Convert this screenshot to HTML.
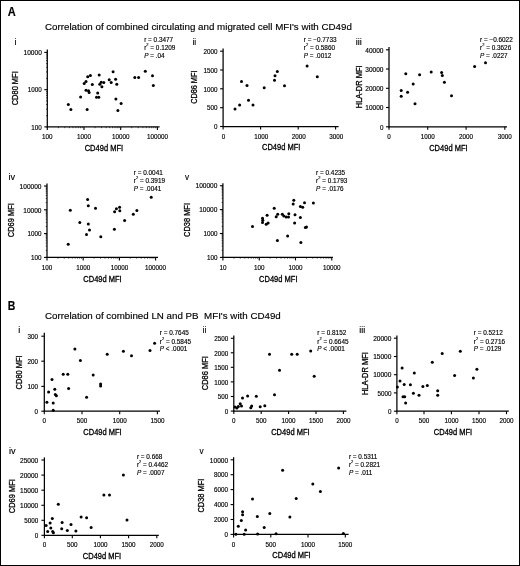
<!DOCTYPE html>
<html><head><meta charset="utf-8"><style>
html,body{margin:0;padding:0;background:#fff;}
svg{display:block;will-change:transform;}
text{font-family:"Liberation Sans", sans-serif;fill:#000;stroke:#000;stroke-width:0.15px;}
</style></head><body>
<svg width="520" height="566" viewBox="0 0 520 566">
<rect x="0" y="0" width="520" height="566" fill="#fff"/>
<rect x="0.5" y="0.5" width="519" height="565" fill="none" stroke="#000" stroke-width="1"/>
<text x="7.7" y="15.9" font-size="12.4" font-weight="bold" textLength="8.0" lengthAdjust="spacingAndGlyphs">A</text>
<text x="45" y="30.2" font-size="9.77">Correlation of combined circulating and migrated cell MFI's with CD49d</text>
<text x="7.8" y="309.9" font-size="12.6" font-weight="bold" textLength="7.6" lengthAdjust="spacingAndGlyphs">B</text>
<text x="45" y="318.7" font-size="9.78" xml:space="preserve">Correlation of combined LN and PB  MFI's with CD49d</text>
<g stroke="#000" fill="#000">
<line x1="47.30" y1="49.60" x2="47.30" y2="127.40" stroke-width="1.25"/>
<line x1="46.80" y1="126.90" x2="159.60" y2="126.90" stroke-width="1.25"/>
<line x1="44.30" y1="126.90" x2="47.30" y2="126.90" stroke-width="1.1"/>
<text x="41.80" y="129.66" font-size="6.3" text-anchor="end" textLength="10.51" lengthAdjust="spacingAndGlyphs">100</text>
<line x1="44.30" y1="89.65" x2="47.30" y2="89.65" stroke-width="1.1"/>
<text x="41.80" y="92.41" font-size="6.3" text-anchor="end" textLength="14.01" lengthAdjust="spacingAndGlyphs">1000</text>
<line x1="44.30" y1="52.40" x2="47.30" y2="52.40" stroke-width="1.1"/>
<text x="41.80" y="55.16" font-size="6.3" text-anchor="end" textLength="18.21" lengthAdjust="spacingAndGlyphs">10000</text>
<line x1="46.00" y1="115.69" x2="47.30" y2="115.69" stroke-width="0.65"/>
<line x1="46.00" y1="109.13" x2="47.30" y2="109.13" stroke-width="0.65"/>
<line x1="46.00" y1="104.47" x2="47.30" y2="104.47" stroke-width="0.65"/>
<line x1="46.00" y1="100.86" x2="47.30" y2="100.86" stroke-width="0.65"/>
<line x1="46.00" y1="97.91" x2="47.30" y2="97.91" stroke-width="0.65"/>
<line x1="46.00" y1="95.42" x2="47.30" y2="95.42" stroke-width="0.65"/>
<line x1="46.00" y1="93.26" x2="47.30" y2="93.26" stroke-width="0.65"/>
<line x1="46.00" y1="91.35" x2="47.30" y2="91.35" stroke-width="0.65"/>
<line x1="46.00" y1="78.44" x2="47.30" y2="78.44" stroke-width="0.65"/>
<line x1="46.00" y1="71.88" x2="47.30" y2="71.88" stroke-width="0.65"/>
<line x1="46.00" y1="67.22" x2="47.30" y2="67.22" stroke-width="0.65"/>
<line x1="46.00" y1="63.61" x2="47.30" y2="63.61" stroke-width="0.65"/>
<line x1="46.00" y1="60.66" x2="47.30" y2="60.66" stroke-width="0.65"/>
<line x1="46.00" y1="58.17" x2="47.30" y2="58.17" stroke-width="0.65"/>
<line x1="46.00" y1="56.01" x2="47.30" y2="56.01" stroke-width="0.65"/>
<line x1="46.00" y1="54.10" x2="47.30" y2="54.10" stroke-width="0.65"/>
<line x1="47.30" y1="126.90" x2="47.30" y2="129.90" stroke-width="1.1"/>
<text x="47.30" y="138.56" font-size="6.3" text-anchor="middle" textLength="10.51" lengthAdjust="spacingAndGlyphs">100</text>
<line x1="84.00" y1="126.90" x2="84.00" y2="129.90" stroke-width="1.1"/>
<text x="84.00" y="138.56" font-size="6.3" text-anchor="middle" textLength="14.01" lengthAdjust="spacingAndGlyphs">1000</text>
<line x1="120.70" y1="126.90" x2="120.70" y2="129.90" stroke-width="1.1"/>
<text x="120.70" y="138.56" font-size="6.3" text-anchor="middle" textLength="17.51" lengthAdjust="spacingAndGlyphs">10000</text>
<line x1="157.40" y1="126.90" x2="157.40" y2="129.90" stroke-width="1.1"/>
<text x="157.40" y="138.56" font-size="6.3" text-anchor="middle" textLength="21.02" lengthAdjust="spacingAndGlyphs">100000</text>
<line x1="58.35" y1="126.90" x2="58.35" y2="128.20" stroke-width="0.65"/>
<line x1="64.81" y1="126.90" x2="64.81" y2="128.20" stroke-width="0.65"/>
<line x1="69.40" y1="126.90" x2="69.40" y2="128.20" stroke-width="0.65"/>
<line x1="72.95" y1="126.90" x2="72.95" y2="128.20" stroke-width="0.65"/>
<line x1="75.86" y1="126.90" x2="75.86" y2="128.20" stroke-width="0.65"/>
<line x1="78.32" y1="126.90" x2="78.32" y2="128.20" stroke-width="0.65"/>
<line x1="80.44" y1="126.90" x2="80.44" y2="128.20" stroke-width="0.65"/>
<line x1="82.32" y1="126.90" x2="82.32" y2="128.20" stroke-width="0.65"/>
<line x1="95.05" y1="126.90" x2="95.05" y2="128.20" stroke-width="0.65"/>
<line x1="101.51" y1="126.90" x2="101.51" y2="128.20" stroke-width="0.65"/>
<line x1="106.10" y1="126.90" x2="106.10" y2="128.20" stroke-width="0.65"/>
<line x1="109.65" y1="126.90" x2="109.65" y2="128.20" stroke-width="0.65"/>
<line x1="112.56" y1="126.90" x2="112.56" y2="128.20" stroke-width="0.65"/>
<line x1="115.02" y1="126.90" x2="115.02" y2="128.20" stroke-width="0.65"/>
<line x1="117.14" y1="126.90" x2="117.14" y2="128.20" stroke-width="0.65"/>
<line x1="119.02" y1="126.90" x2="119.02" y2="128.20" stroke-width="0.65"/>
<line x1="131.75" y1="126.90" x2="131.75" y2="128.20" stroke-width="0.65"/>
<line x1="138.21" y1="126.90" x2="138.21" y2="128.20" stroke-width="0.65"/>
<line x1="142.80" y1="126.90" x2="142.80" y2="128.20" stroke-width="0.65"/>
<line x1="146.35" y1="126.90" x2="146.35" y2="128.20" stroke-width="0.65"/>
<line x1="149.26" y1="126.90" x2="149.26" y2="128.20" stroke-width="0.65"/>
<line x1="151.72" y1="126.90" x2="151.72" y2="128.20" stroke-width="0.65"/>
<line x1="153.84" y1="126.90" x2="153.84" y2="128.20" stroke-width="0.65"/>
<line x1="155.72" y1="126.90" x2="155.72" y2="128.20" stroke-width="0.65"/>
<text x="14.60" y="45.00" font-size="9.0">i</text>
<text transform="translate(18.00,88.30) rotate(-90)" x="0" y="0" font-size="8.6" text-anchor="middle" textLength="34.00" lengthAdjust="spacingAndGlyphs" style="stroke-width:0.3px">CD80 MFI</text>
<text x="103.90" y="150.75" font-size="8.4" text-anchor="middle" textLength="38.40" lengthAdjust="spacingAndGlyphs" style="stroke-width:0.3px">CD49d MFI</text>
<text x="144.20" y="41.92" font-size="6.4">r = 0.3477</text>
<text x="144.20" y="49.82" font-size="6.4">r<tspan font-size="3.97" dy="-3.6">2</tspan><tspan dy="3.6"> = 0.1209</tspan></text>
<text x="144.20" y="57.52" font-size="6.4"><tspan font-style="italic">P</tspan> = .04</text>
<circle cx="68.30" cy="104.40" r="1.5" stroke="none"/>
<circle cx="70.90" cy="109.60" r="1.5" stroke="none"/>
<circle cx="80.60" cy="96.90" r="1.5" stroke="none"/>
<circle cx="87.10" cy="109.40" r="1.5" stroke="none"/>
<circle cx="86.00" cy="90.30" r="1.5" stroke="none"/>
<circle cx="88.50" cy="90.70" r="1.5" stroke="none"/>
<circle cx="89.10" cy="92.60" r="1.5" stroke="none"/>
<circle cx="87.70" cy="76.80" r="1.5" stroke="none"/>
<circle cx="90.40" cy="75.50" r="1.5" stroke="none"/>
<circle cx="84.20" cy="83.40" r="1.5" stroke="none"/>
<circle cx="86.00" cy="81.50" r="1.5" stroke="none"/>
<circle cx="92.30" cy="84.50" r="1.5" stroke="none"/>
<circle cx="99.20" cy="74.90" r="1.5" stroke="none"/>
<circle cx="97.70" cy="93.00" r="1.5" stroke="none"/>
<circle cx="96.50" cy="97.20" r="1.5" stroke="none"/>
<circle cx="98.80" cy="97.20" r="1.5" stroke="none"/>
<circle cx="99.80" cy="84.20" r="1.5" stroke="none"/>
<circle cx="101.20" cy="82.20" r="1.5" stroke="none"/>
<circle cx="103.80" cy="82.60" r="1.5" stroke="none"/>
<circle cx="101.90" cy="86.80" r="1.5" stroke="none"/>
<circle cx="113.10" cy="71.80" r="1.5" stroke="none"/>
<circle cx="109.20" cy="79.70" r="1.5" stroke="none"/>
<circle cx="111.20" cy="82.60" r="1.5" stroke="none"/>
<circle cx="115.60" cy="79.30" r="1.5" stroke="none"/>
<circle cx="116.80" cy="84.20" r="1.5" stroke="none"/>
<circle cx="115.90" cy="99.00" r="1.5" stroke="none"/>
<circle cx="121.10" cy="103.50" r="1.5" stroke="none"/>
<circle cx="117.90" cy="110.50" r="1.5" stroke="none"/>
<circle cx="134.80" cy="77.50" r="1.5" stroke="none"/>
<circle cx="138.60" cy="77.50" r="1.5" stroke="none"/>
<circle cx="145.30" cy="71.20" r="1.5" stroke="none"/>
<circle cx="152.50" cy="75.80" r="1.5" stroke="none"/>
<circle cx="153.30" cy="85.40" r="1.5" stroke="none"/>
<line x1="223.10" y1="48.40" x2="223.10" y2="127.00" stroke-width="1.25"/>
<line x1="222.60" y1="126.50" x2="338.60" y2="126.50" stroke-width="1.25"/>
<line x1="220.10" y1="126.50" x2="223.10" y2="126.50" stroke-width="1.1"/>
<text x="217.60" y="129.26" font-size="6.3" text-anchor="end" textLength="3.50" lengthAdjust="spacingAndGlyphs">0</text>
<line x1="220.10" y1="107.70" x2="223.10" y2="107.70" stroke-width="1.1"/>
<text x="217.60" y="110.46" font-size="6.3" text-anchor="end" textLength="10.51" lengthAdjust="spacingAndGlyphs">500</text>
<line x1="220.10" y1="88.80" x2="223.10" y2="88.80" stroke-width="1.1"/>
<text x="217.60" y="91.56" font-size="6.3" text-anchor="end" textLength="14.01" lengthAdjust="spacingAndGlyphs">1000</text>
<line x1="220.10" y1="70.00" x2="223.10" y2="70.00" stroke-width="1.1"/>
<text x="217.60" y="72.76" font-size="6.3" text-anchor="end" textLength="14.01" lengthAdjust="spacingAndGlyphs">1500</text>
<line x1="220.10" y1="51.20" x2="223.10" y2="51.20" stroke-width="1.1"/>
<text x="217.60" y="53.96" font-size="6.3" text-anchor="end" textLength="14.01" lengthAdjust="spacingAndGlyphs">2000</text>
<line x1="223.10" y1="126.50" x2="223.10" y2="129.50" stroke-width="1.1"/>
<text x="223.40" y="138.86" font-size="6.3" text-anchor="middle" textLength="3.50" lengthAdjust="spacingAndGlyphs">0</text>
<line x1="260.60" y1="126.50" x2="260.60" y2="129.50" stroke-width="1.1"/>
<text x="261.20" y="138.86" font-size="6.3" text-anchor="middle" textLength="14.01" lengthAdjust="spacingAndGlyphs">1000</text>
<line x1="298.20" y1="126.50" x2="298.20" y2="129.50" stroke-width="1.1"/>
<text x="298.80" y="138.86" font-size="6.3" text-anchor="middle" textLength="14.01" lengthAdjust="spacingAndGlyphs">2000</text>
<line x1="335.60" y1="126.50" x2="335.60" y2="129.50" stroke-width="1.1"/>
<text x="336.20" y="138.86" font-size="6.3" text-anchor="middle" textLength="14.01" lengthAdjust="spacingAndGlyphs">3000</text>
<text x="192.50" y="45.20" font-size="9.0" textLength="3.70" lengthAdjust="spacingAndGlyphs">ii</text>
<text transform="translate(196.80,87.20) rotate(-90)" x="0" y="0" font-size="8.6" text-anchor="middle" textLength="33.30" lengthAdjust="spacingAndGlyphs" style="stroke-width:0.3px">CD86 MFI</text>
<text x="281.20" y="150.35" font-size="8.4" text-anchor="middle" textLength="38.40" lengthAdjust="spacingAndGlyphs" style="stroke-width:0.3px">CD49d MFI</text>
<text x="303.80" y="42.02" font-size="6.4">r = −0.7733</text>
<text x="303.80" y="49.82" font-size="6.4">r<tspan font-size="3.97" dy="-3.6">2</tspan><tspan dy="3.6"> = 0.5860</tspan></text>
<text x="303.80" y="57.52" font-size="6.4"><tspan font-style="italic">P</tspan> = .0012</text>
<circle cx="235.00" cy="108.90" r="1.5" stroke="none"/>
<circle cx="239.60" cy="104.90" r="1.5" stroke="none"/>
<circle cx="248.50" cy="100.30" r="1.5" stroke="none"/>
<circle cx="253.00" cy="105.10" r="1.5" stroke="none"/>
<circle cx="241.50" cy="81.50" r="1.5" stroke="none"/>
<circle cx="247.00" cy="85.40" r="1.5" stroke="none"/>
<circle cx="264.20" cy="87.70" r="1.5" stroke="none"/>
<circle cx="277.30" cy="71.50" r="1.5" stroke="none"/>
<circle cx="275.00" cy="75.70" r="1.5" stroke="none"/>
<circle cx="274.50" cy="80.30" r="1.5" stroke="none"/>
<circle cx="284.50" cy="85.80" r="1.5" stroke="none"/>
<circle cx="307.10" cy="66.10" r="1.5" stroke="none"/>
<circle cx="317.30" cy="76.70" r="1.5" stroke="none"/>
<line x1="389.00" y1="47.00" x2="389.00" y2="127.30" stroke-width="1.25"/>
<line x1="388.50" y1="126.80" x2="507.00" y2="126.80" stroke-width="1.25"/>
<line x1="386.00" y1="126.80" x2="389.00" y2="126.80" stroke-width="1.1"/>
<text x="383.50" y="129.56" font-size="6.3" text-anchor="end" textLength="3.50" lengthAdjust="spacingAndGlyphs">0</text>
<line x1="386.00" y1="107.50" x2="389.00" y2="107.50" stroke-width="1.1"/>
<text x="383.50" y="110.26" font-size="6.3" text-anchor="end" textLength="18.21" lengthAdjust="spacingAndGlyphs">10000</text>
<line x1="386.00" y1="88.30" x2="389.00" y2="88.30" stroke-width="1.1"/>
<text x="383.50" y="91.06" font-size="6.3" text-anchor="end" textLength="18.21" lengthAdjust="spacingAndGlyphs">20000</text>
<line x1="386.00" y1="69.00" x2="389.00" y2="69.00" stroke-width="1.1"/>
<text x="383.50" y="71.76" font-size="6.3" text-anchor="end" textLength="18.21" lengthAdjust="spacingAndGlyphs">30000</text>
<line x1="386.00" y1="49.80" x2="389.00" y2="49.80" stroke-width="1.1"/>
<text x="383.50" y="52.56" font-size="6.3" text-anchor="end" textLength="18.21" lengthAdjust="spacingAndGlyphs">40000</text>
<line x1="389.00" y1="126.80" x2="389.00" y2="129.80" stroke-width="1.1"/>
<text x="389.00" y="138.86" font-size="6.3" text-anchor="middle" textLength="3.50" lengthAdjust="spacingAndGlyphs">0</text>
<line x1="427.70" y1="126.80" x2="427.70" y2="129.80" stroke-width="1.1"/>
<text x="427.70" y="138.86" font-size="6.3" text-anchor="middle" textLength="14.01" lengthAdjust="spacingAndGlyphs">1000</text>
<line x1="466.10" y1="126.80" x2="466.10" y2="129.80" stroke-width="1.1"/>
<text x="466.10" y="138.86" font-size="6.3" text-anchor="middle" textLength="14.01" lengthAdjust="spacingAndGlyphs">2000</text>
<line x1="504.80" y1="126.80" x2="504.80" y2="129.80" stroke-width="1.1"/>
<text x="504.80" y="138.86" font-size="6.3" text-anchor="middle" textLength="14.01" lengthAdjust="spacingAndGlyphs">3000</text>
<text x="355.80" y="45.10" font-size="9.0" textLength="6.00" lengthAdjust="spacingAndGlyphs">iii</text>
<text transform="translate(361.50,86.80) rotate(-90)" x="0" y="0" font-size="8.6" text-anchor="middle" textLength="43.00" lengthAdjust="spacingAndGlyphs" style="stroke-width:0.3px">HLA-DR MFI</text>
<text x="448.40" y="150.70" font-size="8.4" text-anchor="middle" textLength="38.40" lengthAdjust="spacingAndGlyphs" style="stroke-width:0.3px">CD49d MFI</text>
<text x="480.00" y="42.02" font-size="6.4">r = −0.6022</text>
<text x="480.00" y="49.92" font-size="6.4">r<tspan font-size="3.97" dy="-3.6">2</tspan><tspan dy="3.6"> = 0.3626</tspan></text>
<text x="480.00" y="57.72" font-size="6.4"><tspan font-style="italic">P</tspan> = .0227</text>
<circle cx="405.80" cy="73.80" r="1.5" stroke="none"/>
<circle cx="401.20" cy="90.40" r="1.5" stroke="none"/>
<circle cx="401.20" cy="96.20" r="1.5" stroke="none"/>
<circle cx="407.60" cy="92.30" r="1.5" stroke="none"/>
<circle cx="413.20" cy="83.90" r="1.5" stroke="none"/>
<circle cx="415.00" cy="103.80" r="1.5" stroke="none"/>
<circle cx="419.60" cy="74.70" r="1.5" stroke="none"/>
<circle cx="431.20" cy="71.90" r="1.5" stroke="none"/>
<circle cx="441.60" cy="72.60" r="1.5" stroke="none"/>
<circle cx="442.30" cy="75.40" r="1.5" stroke="none"/>
<circle cx="444.40" cy="82.30" r="1.5" stroke="none"/>
<circle cx="451.50" cy="95.70" r="1.5" stroke="none"/>
<circle cx="474.60" cy="66.60" r="1.5" stroke="none"/>
<circle cx="485.50" cy="62.70" r="1.5" stroke="none"/>
<line x1="47.00" y1="183.40" x2="47.00" y2="257.90" stroke-width="1.25"/>
<line x1="46.50" y1="257.40" x2="158.00" y2="257.40" stroke-width="1.25"/>
<line x1="44.00" y1="257.40" x2="47.00" y2="257.40" stroke-width="1.1"/>
<text x="41.50" y="260.16" font-size="6.3" text-anchor="end" textLength="10.51" lengthAdjust="spacingAndGlyphs">100</text>
<line x1="44.00" y1="233.60" x2="47.00" y2="233.60" stroke-width="1.1"/>
<text x="41.50" y="236.36" font-size="6.3" text-anchor="end" textLength="14.01" lengthAdjust="spacingAndGlyphs">1000</text>
<line x1="44.00" y1="209.80" x2="47.00" y2="209.80" stroke-width="1.1"/>
<text x="41.50" y="212.56" font-size="6.3" text-anchor="end" textLength="18.21" lengthAdjust="spacingAndGlyphs">10000</text>
<line x1="44.00" y1="186.00" x2="47.00" y2="186.00" stroke-width="1.1"/>
<text x="41.50" y="188.76" font-size="6.3" text-anchor="end" textLength="21.86" lengthAdjust="spacingAndGlyphs">100000</text>
<line x1="45.70" y1="250.24" x2="47.00" y2="250.24" stroke-width="0.65"/>
<line x1="45.70" y1="246.04" x2="47.00" y2="246.04" stroke-width="0.65"/>
<line x1="45.70" y1="243.07" x2="47.00" y2="243.07" stroke-width="0.65"/>
<line x1="45.70" y1="240.76" x2="47.00" y2="240.76" stroke-width="0.65"/>
<line x1="45.70" y1="238.88" x2="47.00" y2="238.88" stroke-width="0.65"/>
<line x1="45.70" y1="237.29" x2="47.00" y2="237.29" stroke-width="0.65"/>
<line x1="45.70" y1="235.91" x2="47.00" y2="235.91" stroke-width="0.65"/>
<line x1="45.70" y1="234.69" x2="47.00" y2="234.69" stroke-width="0.65"/>
<line x1="45.70" y1="226.44" x2="47.00" y2="226.44" stroke-width="0.65"/>
<line x1="45.70" y1="222.24" x2="47.00" y2="222.24" stroke-width="0.65"/>
<line x1="45.70" y1="219.27" x2="47.00" y2="219.27" stroke-width="0.65"/>
<line x1="45.70" y1="216.96" x2="47.00" y2="216.96" stroke-width="0.65"/>
<line x1="45.70" y1="215.08" x2="47.00" y2="215.08" stroke-width="0.65"/>
<line x1="45.70" y1="213.49" x2="47.00" y2="213.49" stroke-width="0.65"/>
<line x1="45.70" y1="212.11" x2="47.00" y2="212.11" stroke-width="0.65"/>
<line x1="45.70" y1="210.89" x2="47.00" y2="210.89" stroke-width="0.65"/>
<line x1="45.70" y1="202.64" x2="47.00" y2="202.64" stroke-width="0.65"/>
<line x1="45.70" y1="198.44" x2="47.00" y2="198.44" stroke-width="0.65"/>
<line x1="45.70" y1="195.47" x2="47.00" y2="195.47" stroke-width="0.65"/>
<line x1="45.70" y1="193.16" x2="47.00" y2="193.16" stroke-width="0.65"/>
<line x1="45.70" y1="191.28" x2="47.00" y2="191.28" stroke-width="0.65"/>
<line x1="45.70" y1="189.69" x2="47.00" y2="189.69" stroke-width="0.65"/>
<line x1="45.70" y1="188.31" x2="47.00" y2="188.31" stroke-width="0.65"/>
<line x1="45.70" y1="187.09" x2="47.00" y2="187.09" stroke-width="0.65"/>
<line x1="47.00" y1="257.40" x2="47.00" y2="260.40" stroke-width="1.1"/>
<text x="47.00" y="269.66" font-size="6.3" text-anchor="middle" textLength="10.51" lengthAdjust="spacingAndGlyphs">100</text>
<line x1="83.20" y1="257.40" x2="83.20" y2="260.40" stroke-width="1.1"/>
<text x="83.20" y="269.66" font-size="6.3" text-anchor="middle" textLength="14.01" lengthAdjust="spacingAndGlyphs">1000</text>
<line x1="119.40" y1="257.40" x2="119.40" y2="260.40" stroke-width="1.1"/>
<text x="119.40" y="269.66" font-size="6.3" text-anchor="middle" textLength="17.51" lengthAdjust="spacingAndGlyphs">10000</text>
<line x1="155.60" y1="257.40" x2="155.60" y2="260.40" stroke-width="1.1"/>
<text x="155.60" y="269.66" font-size="6.3" text-anchor="middle" textLength="21.02" lengthAdjust="spacingAndGlyphs">100000</text>
<line x1="57.90" y1="257.40" x2="57.90" y2="258.70" stroke-width="0.65"/>
<line x1="64.27" y1="257.40" x2="64.27" y2="258.70" stroke-width="0.65"/>
<line x1="68.79" y1="257.40" x2="68.79" y2="258.70" stroke-width="0.65"/>
<line x1="72.30" y1="257.40" x2="72.30" y2="258.70" stroke-width="0.65"/>
<line x1="75.17" y1="257.40" x2="75.17" y2="258.70" stroke-width="0.65"/>
<line x1="77.59" y1="257.40" x2="77.59" y2="258.70" stroke-width="0.65"/>
<line x1="79.69" y1="257.40" x2="79.69" y2="258.70" stroke-width="0.65"/>
<line x1="81.54" y1="257.40" x2="81.54" y2="258.70" stroke-width="0.65"/>
<line x1="94.10" y1="257.40" x2="94.10" y2="258.70" stroke-width="0.65"/>
<line x1="100.47" y1="257.40" x2="100.47" y2="258.70" stroke-width="0.65"/>
<line x1="104.99" y1="257.40" x2="104.99" y2="258.70" stroke-width="0.65"/>
<line x1="108.50" y1="257.40" x2="108.50" y2="258.70" stroke-width="0.65"/>
<line x1="111.37" y1="257.40" x2="111.37" y2="258.70" stroke-width="0.65"/>
<line x1="113.79" y1="257.40" x2="113.79" y2="258.70" stroke-width="0.65"/>
<line x1="115.89" y1="257.40" x2="115.89" y2="258.70" stroke-width="0.65"/>
<line x1="117.74" y1="257.40" x2="117.74" y2="258.70" stroke-width="0.65"/>
<line x1="130.30" y1="257.40" x2="130.30" y2="258.70" stroke-width="0.65"/>
<line x1="136.67" y1="257.40" x2="136.67" y2="258.70" stroke-width="0.65"/>
<line x1="141.19" y1="257.40" x2="141.19" y2="258.70" stroke-width="0.65"/>
<line x1="144.70" y1="257.40" x2="144.70" y2="258.70" stroke-width="0.65"/>
<line x1="147.57" y1="257.40" x2="147.57" y2="258.70" stroke-width="0.65"/>
<line x1="149.99" y1="257.40" x2="149.99" y2="258.70" stroke-width="0.65"/>
<line x1="152.09" y1="257.40" x2="152.09" y2="258.70" stroke-width="0.65"/>
<line x1="153.94" y1="257.40" x2="153.94" y2="258.70" stroke-width="0.65"/>
<text x="8.40" y="180.00" font-size="9.0" textLength="6.60" lengthAdjust="spacingAndGlyphs">iv</text>
<text transform="translate(14.10,220.20) rotate(-90)" x="0" y="0" font-size="8.6" text-anchor="middle" textLength="34.00" lengthAdjust="spacingAndGlyphs" style="stroke-width:0.3px">CD69 MFI</text>
<text x="102.50" y="281.55" font-size="8.4" text-anchor="middle" textLength="38.40" lengthAdjust="spacingAndGlyphs" style="stroke-width:0.3px">CD49d MFI</text>
<text x="133.80" y="174.62" font-size="6.4">r = 0.0041</text>
<text x="133.80" y="182.72" font-size="6.4">r<tspan font-size="3.97" dy="-3.6">2</tspan><tspan dy="3.6"> = 0.3919</tspan></text>
<text x="133.80" y="190.82" font-size="6.4"><tspan font-style="italic">P</tspan> = .0041</text>
<circle cx="68.20" cy="244.30" r="1.5" stroke="none"/>
<circle cx="70.30" cy="210.30" r="1.5" stroke="none"/>
<circle cx="79.80" cy="222.60" r="1.5" stroke="none"/>
<circle cx="87.60" cy="199.50" r="1.5" stroke="none"/>
<circle cx="88.30" cy="205.70" r="1.5" stroke="none"/>
<circle cx="88.30" cy="224.00" r="1.5" stroke="none"/>
<circle cx="89.50" cy="230.00" r="1.5" stroke="none"/>
<circle cx="86.50" cy="234.40" r="1.5" stroke="none"/>
<circle cx="95.50" cy="208.30" r="1.5" stroke="none"/>
<circle cx="100.80" cy="236.70" r="1.5" stroke="none"/>
<circle cx="114.60" cy="211.80" r="1.5" stroke="none"/>
<circle cx="116.40" cy="208.70" r="1.5" stroke="none"/>
<circle cx="119.60" cy="207.30" r="1.5" stroke="none"/>
<circle cx="119.80" cy="210.80" r="1.5" stroke="none"/>
<circle cx="114.40" cy="229.20" r="1.5" stroke="none"/>
<circle cx="124.60" cy="220.40" r="1.5" stroke="none"/>
<circle cx="133.30" cy="214.20" r="1.5" stroke="none"/>
<circle cx="136.90" cy="210.40" r="1.5" stroke="none"/>
<circle cx="151.20" cy="197.20" r="1.5" stroke="none"/>
<line x1="222.90" y1="183.20" x2="222.90" y2="257.90" stroke-width="1.25"/>
<line x1="222.40" y1="257.40" x2="332.90" y2="257.40" stroke-width="1.25"/>
<line x1="219.90" y1="257.40" x2="222.90" y2="257.40" stroke-width="1.1"/>
<text x="217.40" y="260.16" font-size="6.3" text-anchor="end" textLength="10.51" lengthAdjust="spacingAndGlyphs">100</text>
<line x1="219.90" y1="233.50" x2="222.90" y2="233.50" stroke-width="1.1"/>
<text x="217.40" y="236.26" font-size="6.3" text-anchor="end" textLength="14.01" lengthAdjust="spacingAndGlyphs">1000</text>
<line x1="219.90" y1="209.60" x2="222.90" y2="209.60" stroke-width="1.1"/>
<text x="217.40" y="212.36" font-size="6.3" text-anchor="end" textLength="18.21" lengthAdjust="spacingAndGlyphs">10000</text>
<line x1="219.90" y1="185.70" x2="222.90" y2="185.70" stroke-width="1.1"/>
<text x="217.40" y="188.46" font-size="6.3" text-anchor="end" textLength="21.86" lengthAdjust="spacingAndGlyphs">100000</text>
<line x1="221.60" y1="250.21" x2="222.90" y2="250.21" stroke-width="0.65"/>
<line x1="221.60" y1="246.00" x2="222.90" y2="246.00" stroke-width="0.65"/>
<line x1="221.60" y1="243.01" x2="222.90" y2="243.01" stroke-width="0.65"/>
<line x1="221.60" y1="240.69" x2="222.90" y2="240.69" stroke-width="0.65"/>
<line x1="221.60" y1="238.80" x2="222.90" y2="238.80" stroke-width="0.65"/>
<line x1="221.60" y1="237.20" x2="222.90" y2="237.20" stroke-width="0.65"/>
<line x1="221.60" y1="235.82" x2="222.90" y2="235.82" stroke-width="0.65"/>
<line x1="221.60" y1="234.59" x2="222.90" y2="234.59" stroke-width="0.65"/>
<line x1="221.60" y1="226.31" x2="222.90" y2="226.31" stroke-width="0.65"/>
<line x1="221.60" y1="222.10" x2="222.90" y2="222.10" stroke-width="0.65"/>
<line x1="221.60" y1="219.11" x2="222.90" y2="219.11" stroke-width="0.65"/>
<line x1="221.60" y1="216.79" x2="222.90" y2="216.79" stroke-width="0.65"/>
<line x1="221.60" y1="214.90" x2="222.90" y2="214.90" stroke-width="0.65"/>
<line x1="221.60" y1="213.30" x2="222.90" y2="213.30" stroke-width="0.65"/>
<line x1="221.60" y1="211.92" x2="222.90" y2="211.92" stroke-width="0.65"/>
<line x1="221.60" y1="210.69" x2="222.90" y2="210.69" stroke-width="0.65"/>
<line x1="221.60" y1="202.41" x2="222.90" y2="202.41" stroke-width="0.65"/>
<line x1="221.60" y1="198.20" x2="222.90" y2="198.20" stroke-width="0.65"/>
<line x1="221.60" y1="195.21" x2="222.90" y2="195.21" stroke-width="0.65"/>
<line x1="221.60" y1="192.89" x2="222.90" y2="192.89" stroke-width="0.65"/>
<line x1="221.60" y1="191.00" x2="222.90" y2="191.00" stroke-width="0.65"/>
<line x1="221.60" y1="189.40" x2="222.90" y2="189.40" stroke-width="0.65"/>
<line x1="221.60" y1="188.02" x2="222.90" y2="188.02" stroke-width="0.65"/>
<line x1="221.60" y1="186.79" x2="222.90" y2="186.79" stroke-width="0.65"/>
<line x1="222.90" y1="257.40" x2="222.90" y2="260.40" stroke-width="1.1"/>
<text x="222.90" y="269.66" font-size="6.3" text-anchor="middle" textLength="7.01" lengthAdjust="spacingAndGlyphs">10</text>
<line x1="259.25" y1="257.40" x2="259.25" y2="260.40" stroke-width="1.1"/>
<text x="259.25" y="269.66" font-size="6.3" text-anchor="middle" textLength="10.51" lengthAdjust="spacingAndGlyphs">100</text>
<line x1="295.50" y1="257.40" x2="295.50" y2="260.40" stroke-width="1.1"/>
<text x="295.50" y="269.66" font-size="6.3" text-anchor="middle" textLength="14.01" lengthAdjust="spacingAndGlyphs">1000</text>
<line x1="331.75" y1="257.40" x2="331.75" y2="260.40" stroke-width="1.1"/>
<text x="331.75" y="269.66" font-size="6.3" text-anchor="middle" textLength="17.51" lengthAdjust="spacingAndGlyphs">10000</text>
<line x1="233.91" y1="257.40" x2="233.91" y2="258.70" stroke-width="0.65"/>
<line x1="240.30" y1="257.40" x2="240.30" y2="258.70" stroke-width="0.65"/>
<line x1="244.82" y1="257.40" x2="244.82" y2="258.70" stroke-width="0.65"/>
<line x1="248.34" y1="257.40" x2="248.34" y2="258.70" stroke-width="0.65"/>
<line x1="251.21" y1="257.40" x2="251.21" y2="258.70" stroke-width="0.65"/>
<line x1="253.63" y1="257.40" x2="253.63" y2="258.70" stroke-width="0.65"/>
<line x1="255.74" y1="257.40" x2="255.74" y2="258.70" stroke-width="0.65"/>
<line x1="257.59" y1="257.40" x2="257.59" y2="258.70" stroke-width="0.65"/>
<line x1="270.16" y1="257.40" x2="270.16" y2="258.70" stroke-width="0.65"/>
<line x1="276.55" y1="257.40" x2="276.55" y2="258.70" stroke-width="0.65"/>
<line x1="281.07" y1="257.40" x2="281.07" y2="258.70" stroke-width="0.65"/>
<line x1="284.59" y1="257.40" x2="284.59" y2="258.70" stroke-width="0.65"/>
<line x1="287.46" y1="257.40" x2="287.46" y2="258.70" stroke-width="0.65"/>
<line x1="289.88" y1="257.40" x2="289.88" y2="258.70" stroke-width="0.65"/>
<line x1="291.99" y1="257.40" x2="291.99" y2="258.70" stroke-width="0.65"/>
<line x1="293.84" y1="257.40" x2="293.84" y2="258.70" stroke-width="0.65"/>
<line x1="306.41" y1="257.40" x2="306.41" y2="258.70" stroke-width="0.65"/>
<line x1="312.80" y1="257.40" x2="312.80" y2="258.70" stroke-width="0.65"/>
<line x1="317.32" y1="257.40" x2="317.32" y2="258.70" stroke-width="0.65"/>
<line x1="320.84" y1="257.40" x2="320.84" y2="258.70" stroke-width="0.65"/>
<line x1="323.71" y1="257.40" x2="323.71" y2="258.70" stroke-width="0.65"/>
<line x1="326.13" y1="257.40" x2="326.13" y2="258.70" stroke-width="0.65"/>
<line x1="328.24" y1="257.40" x2="328.24" y2="258.70" stroke-width="0.65"/>
<line x1="330.09" y1="257.40" x2="330.09" y2="258.70" stroke-width="0.65"/>
<text x="185.00" y="180.00" font-size="9.0" textLength="4.10" lengthAdjust="spacingAndGlyphs">v</text>
<text transform="translate(189.50,220.00) rotate(-90)" x="0" y="0" font-size="8.6" text-anchor="middle" textLength="34.00" lengthAdjust="spacingAndGlyphs" style="stroke-width:0.3px">CD38 MFI</text>
<text x="278.30" y="281.65" font-size="8.4" text-anchor="middle" textLength="38.40" lengthAdjust="spacingAndGlyphs" style="stroke-width:0.3px">CD49d MFI</text>
<text x="316.10" y="174.62" font-size="6.4">r = 0.4235</text>
<text x="316.10" y="182.72" font-size="6.4">r<tspan font-size="3.97" dy="-3.6">2</tspan><tspan dy="3.6"> = 0.1793</tspan></text>
<text x="316.10" y="190.72" font-size="6.4"><tspan font-style="italic">P</tspan> = .0176</text>
<circle cx="252.50" cy="226.60" r="1.5" stroke="none"/>
<circle cx="262.50" cy="218.30" r="1.5" stroke="none"/>
<circle cx="262.80" cy="220.20" r="1.5" stroke="none"/>
<circle cx="262.50" cy="222.60" r="1.5" stroke="none"/>
<circle cx="266.20" cy="224.20" r="1.5" stroke="none"/>
<circle cx="268.10" cy="223.10" r="1.5" stroke="none"/>
<circle cx="267.10" cy="215.20" r="1.5" stroke="none"/>
<circle cx="274.20" cy="208.20" r="1.5" stroke="none"/>
<circle cx="276.20" cy="216.80" r="1.5" stroke="none"/>
<circle cx="277.70" cy="214.30" r="1.5" stroke="none"/>
<circle cx="282.30" cy="214.20" r="1.5" stroke="none"/>
<circle cx="283.80" cy="216.10" r="1.5" stroke="none"/>
<circle cx="286.20" cy="217.10" r="1.5" stroke="none"/>
<circle cx="288.50" cy="217.10" r="1.5" stroke="none"/>
<circle cx="288.80" cy="213.80" r="1.5" stroke="none"/>
<circle cx="293.80" cy="200.30" r="1.5" stroke="none"/>
<circle cx="293.20" cy="204.00" r="1.5" stroke="none"/>
<circle cx="304.50" cy="202.80" r="1.5" stroke="none"/>
<circle cx="313.40" cy="203.00" r="1.5" stroke="none"/>
<circle cx="300.40" cy="206.50" r="1.5" stroke="none"/>
<circle cx="302.70" cy="207.20" r="1.5" stroke="none"/>
<circle cx="295.00" cy="214.80" r="1.5" stroke="none"/>
<circle cx="300.40" cy="217.60" r="1.5" stroke="none"/>
<circle cx="294.60" cy="223.00" r="1.5" stroke="none"/>
<circle cx="305.40" cy="227.60" r="1.5" stroke="none"/>
<circle cx="306.50" cy="227.10" r="1.5" stroke="none"/>
<circle cx="287.60" cy="235.90" r="1.5" stroke="none"/>
<circle cx="277.40" cy="240.40" r="1.5" stroke="none"/>
<circle cx="300.90" cy="242.40" r="1.5" stroke="none"/>
<line x1="44.30" y1="332.80" x2="44.30" y2="411.70" stroke-width="1.25"/>
<line x1="43.80" y1="411.20" x2="160.00" y2="411.20" stroke-width="1.25"/>
<line x1="41.30" y1="411.20" x2="44.30" y2="411.20" stroke-width="1.1"/>
<text x="38.00" y="413.96" font-size="6.3" text-anchor="end" textLength="3.50" lengthAdjust="spacingAndGlyphs">0</text>
<line x1="41.30" y1="386.40" x2="44.30" y2="386.40" stroke-width="1.1"/>
<text x="38.00" y="389.16" font-size="6.3" text-anchor="end" textLength="10.51" lengthAdjust="spacingAndGlyphs">100</text>
<line x1="41.30" y1="361.20" x2="44.30" y2="361.20" stroke-width="1.1"/>
<text x="38.00" y="363.96" font-size="6.3" text-anchor="end" textLength="10.51" lengthAdjust="spacingAndGlyphs">200</text>
<line x1="41.30" y1="336.20" x2="44.30" y2="336.20" stroke-width="1.1"/>
<text x="38.00" y="338.96" font-size="6.3" text-anchor="end" textLength="10.51" lengthAdjust="spacingAndGlyphs">300</text>
<line x1="44.30" y1="411.20" x2="44.30" y2="414.20" stroke-width="1.1"/>
<text x="44.30" y="422.86" font-size="6.3" text-anchor="middle" textLength="3.50" lengthAdjust="spacingAndGlyphs">0</text>
<line x1="82.00" y1="411.20" x2="82.00" y2="414.20" stroke-width="1.1"/>
<text x="82.00" y="422.86" font-size="6.3" text-anchor="middle" textLength="10.51" lengthAdjust="spacingAndGlyphs">500</text>
<line x1="119.70" y1="411.20" x2="119.70" y2="414.20" stroke-width="1.1"/>
<text x="119.70" y="422.86" font-size="6.3" text-anchor="middle" textLength="14.01" lengthAdjust="spacingAndGlyphs">1000</text>
<line x1="157.40" y1="411.20" x2="157.40" y2="414.20" stroke-width="1.1"/>
<text x="157.40" y="422.86" font-size="6.3" text-anchor="middle" textLength="14.01" lengthAdjust="spacingAndGlyphs">1500</text>
<text x="18.30" y="333.00" font-size="9.0">i</text>
<text transform="translate(22.30,372.40) rotate(-90)" x="0" y="0" font-size="8.6" text-anchor="middle" textLength="34.00" lengthAdjust="spacingAndGlyphs" style="stroke-width:0.3px">CD80 MFI</text>
<text x="102.50" y="434.80" font-size="8.4" text-anchor="middle" textLength="38.40" lengthAdjust="spacingAndGlyphs" style="stroke-width:0.3px">CD49d MFI</text>
<text x="159.80" y="335.42" font-size="6.4">r = 0.7645</text>
<text x="159.80" y="343.92" font-size="6.4">r<tspan font-size="3.97" dy="-3.6">2</tspan><tspan dy="3.6"> = 0.5845</tspan></text>
<text x="159.80" y="350.72" font-size="6.4"><tspan font-style="italic">P</tspan> &lt; .0001</text>
<circle cx="74.90" cy="349.00" r="1.5" stroke="none"/>
<circle cx="80.40" cy="360.50" r="1.5" stroke="none"/>
<circle cx="107.20" cy="354.30" r="1.5" stroke="none"/>
<circle cx="123.40" cy="351.20" r="1.5" stroke="none"/>
<circle cx="131.50" cy="355.80" r="1.5" stroke="none"/>
<circle cx="150.00" cy="350.40" r="1.5" stroke="none"/>
<circle cx="154.60" cy="343.20" r="1.5" stroke="none"/>
<circle cx="63.20" cy="374.20" r="1.5" stroke="none"/>
<circle cx="67.80" cy="374.20" r="1.5" stroke="none"/>
<circle cx="93.20" cy="375.00" r="1.5" stroke="none"/>
<circle cx="52.00" cy="379.50" r="1.5" stroke="none"/>
<circle cx="100.60" cy="384.10" r="1.5" stroke="none"/>
<circle cx="100.60" cy="386.00" r="1.5" stroke="none"/>
<circle cx="68.60" cy="388.50" r="1.5" stroke="none"/>
<circle cx="54.80" cy="389.20" r="1.5" stroke="none"/>
<circle cx="48.60" cy="391.90" r="1.5" stroke="none"/>
<circle cx="55.30" cy="394.50" r="1.5" stroke="none"/>
<circle cx="56.40" cy="395.80" r="1.5" stroke="none"/>
<circle cx="86.60" cy="397.20" r="1.5" stroke="none"/>
<circle cx="46.90" cy="402.20" r="1.5" stroke="none"/>
<circle cx="53.20" cy="403.10" r="1.5" stroke="none"/>
<circle cx="53.20" cy="410.30" r="1.5" stroke="none"/>
<line x1="233.80" y1="335.60" x2="233.80" y2="411.60" stroke-width="1.25"/>
<line x1="233.30" y1="411.10" x2="346.40" y2="411.10" stroke-width="1.25"/>
<line x1="230.80" y1="411.10" x2="233.80" y2="411.10" stroke-width="1.1"/>
<text x="228.30" y="413.86" font-size="6.3" text-anchor="end" textLength="3.50" lengthAdjust="spacingAndGlyphs">0</text>
<line x1="230.80" y1="396.50" x2="233.80" y2="396.50" stroke-width="1.1"/>
<text x="228.30" y="399.26" font-size="6.3" text-anchor="end" textLength="10.51" lengthAdjust="spacingAndGlyphs">500</text>
<line x1="230.80" y1="381.90" x2="233.80" y2="381.90" stroke-width="1.1"/>
<text x="228.30" y="384.66" font-size="6.3" text-anchor="end" textLength="14.01" lengthAdjust="spacingAndGlyphs">1000</text>
<line x1="230.80" y1="367.30" x2="233.80" y2="367.30" stroke-width="1.1"/>
<text x="228.30" y="370.06" font-size="6.3" text-anchor="end" textLength="14.01" lengthAdjust="spacingAndGlyphs">1500</text>
<line x1="230.80" y1="352.80" x2="233.80" y2="352.80" stroke-width="1.1"/>
<text x="228.30" y="355.56" font-size="6.3" text-anchor="end" textLength="14.01" lengthAdjust="spacingAndGlyphs">2000</text>
<line x1="230.80" y1="338.30" x2="233.80" y2="338.30" stroke-width="1.1"/>
<text x="228.30" y="341.06" font-size="6.3" text-anchor="end" textLength="14.01" lengthAdjust="spacingAndGlyphs">2500</text>
<line x1="233.80" y1="411.10" x2="233.80" y2="414.10" stroke-width="1.1"/>
<text x="233.80" y="422.86" font-size="6.3" text-anchor="middle" textLength="3.50" lengthAdjust="spacingAndGlyphs">0</text>
<line x1="261.20" y1="411.10" x2="261.20" y2="414.10" stroke-width="1.1"/>
<text x="261.20" y="422.86" font-size="6.3" text-anchor="middle" textLength="10.51" lengthAdjust="spacingAndGlyphs">500</text>
<line x1="288.60" y1="411.10" x2="288.60" y2="414.10" stroke-width="1.1"/>
<text x="288.60" y="422.86" font-size="6.3" text-anchor="middle" textLength="14.01" lengthAdjust="spacingAndGlyphs">1000</text>
<line x1="316.00" y1="411.10" x2="316.00" y2="414.10" stroke-width="1.1"/>
<text x="316.00" y="422.86" font-size="6.3" text-anchor="middle" textLength="14.01" lengthAdjust="spacingAndGlyphs">1500</text>
<line x1="343.40" y1="411.10" x2="343.40" y2="414.10" stroke-width="1.1"/>
<text x="343.40" y="422.86" font-size="6.3" text-anchor="middle" textLength="14.01" lengthAdjust="spacingAndGlyphs">2000</text>
<text x="202.60" y="332.80" font-size="9.0" textLength="3.70" lengthAdjust="spacingAndGlyphs">ii</text>
<text transform="translate(208.20,373.20) rotate(-90)" x="0" y="0" font-size="8.6" text-anchor="middle" textLength="34.00" lengthAdjust="spacingAndGlyphs" style="stroke-width:0.3px">CD86 MFI</text>
<text x="290.40" y="434.85" font-size="8.4" text-anchor="middle" textLength="38.40" lengthAdjust="spacingAndGlyphs" style="stroke-width:0.3px">CD49d MFI</text>
<text x="317.30" y="335.22" font-size="6.4">r = 0.8152</text>
<text x="317.30" y="343.92" font-size="6.4">r<tspan font-size="3.97" dy="-3.6">2</tspan><tspan dy="3.6"> = 0.6645</tspan></text>
<text x="317.30" y="351.32" font-size="6.4"><tspan font-style="italic">P</tspan> &lt; .0001</text>
<circle cx="235.00" cy="406.90" r="1.5" stroke="none"/>
<circle cx="236.90" cy="408.10" r="1.5" stroke="none"/>
<circle cx="238.30" cy="406.50" r="1.5" stroke="none"/>
<circle cx="240.20" cy="403.70" r="1.5" stroke="none"/>
<circle cx="241.50" cy="406.00" r="1.5" stroke="none"/>
<circle cx="242.50" cy="398.10" r="1.5" stroke="none"/>
<circle cx="247.60" cy="395.90" r="1.5" stroke="none"/>
<circle cx="251.70" cy="405.90" r="1.5" stroke="none"/>
<circle cx="250.80" cy="407.70" r="1.5" stroke="none"/>
<circle cx="256.30" cy="396.20" r="1.5" stroke="none"/>
<circle cx="260.20" cy="406.70" r="1.5" stroke="none"/>
<circle cx="264.80" cy="405.80" r="1.5" stroke="none"/>
<circle cx="274.50" cy="394.80" r="1.5" stroke="none"/>
<circle cx="269.50" cy="354.30" r="1.5" stroke="none"/>
<circle cx="279.50" cy="370.20" r="1.5" stroke="none"/>
<circle cx="291.70" cy="354.30" r="1.5" stroke="none"/>
<circle cx="297.20" cy="354.30" r="1.5" stroke="none"/>
<circle cx="310.70" cy="351.10" r="1.5" stroke="none"/>
<circle cx="314.20" cy="376.20" r="1.5" stroke="none"/>
<line x1="396.90" y1="335.40" x2="396.90" y2="411.70" stroke-width="1.25"/>
<line x1="396.40" y1="411.20" x2="508.80" y2="411.20" stroke-width="1.25"/>
<line x1="393.90" y1="411.20" x2="396.90" y2="411.20" stroke-width="1.1"/>
<text x="391.40" y="413.96" font-size="6.3" text-anchor="end" textLength="3.50" lengthAdjust="spacingAndGlyphs">0</text>
<line x1="393.90" y1="392.90" x2="396.90" y2="392.90" stroke-width="1.1"/>
<text x="391.40" y="395.66" font-size="6.3" text-anchor="end" textLength="14.01" lengthAdjust="spacingAndGlyphs">5000</text>
<line x1="393.90" y1="374.70" x2="396.90" y2="374.70" stroke-width="1.1"/>
<text x="391.40" y="377.46" font-size="6.3" text-anchor="end" textLength="18.21" lengthAdjust="spacingAndGlyphs">10000</text>
<line x1="393.90" y1="356.50" x2="396.90" y2="356.50" stroke-width="1.1"/>
<text x="391.40" y="359.26" font-size="6.3" text-anchor="end" textLength="18.21" lengthAdjust="spacingAndGlyphs">15000</text>
<line x1="393.90" y1="338.20" x2="396.90" y2="338.20" stroke-width="1.1"/>
<text x="391.40" y="340.96" font-size="6.3" text-anchor="end" textLength="18.21" lengthAdjust="spacingAndGlyphs">20000</text>
<line x1="396.90" y1="411.20" x2="396.90" y2="414.20" stroke-width="1.1"/>
<text x="396.90" y="422.86" font-size="6.3" text-anchor="middle" textLength="3.50" lengthAdjust="spacingAndGlyphs">0</text>
<line x1="424.00" y1="411.20" x2="424.00" y2="414.20" stroke-width="1.1"/>
<text x="424.00" y="422.86" font-size="6.3" text-anchor="middle" textLength="10.51" lengthAdjust="spacingAndGlyphs">500</text>
<line x1="451.40" y1="411.20" x2="451.40" y2="414.20" stroke-width="1.1"/>
<text x="451.40" y="422.86" font-size="6.3" text-anchor="middle" textLength="14.01" lengthAdjust="spacingAndGlyphs">1000</text>
<line x1="479.00" y1="411.20" x2="479.00" y2="414.20" stroke-width="1.1"/>
<text x="479.00" y="422.86" font-size="6.3" text-anchor="middle" textLength="14.01" lengthAdjust="spacingAndGlyphs">1500</text>
<line x1="506.50" y1="411.20" x2="506.50" y2="414.20" stroke-width="1.1"/>
<text x="506.50" y="422.86" font-size="6.3" text-anchor="middle" textLength="14.01" lengthAdjust="spacingAndGlyphs">2000</text>
<text x="359.30" y="332.80" font-size="9.0" textLength="6.00" lengthAdjust="spacingAndGlyphs">iii</text>
<text transform="translate(367.80,373.60) rotate(-90)" x="0" y="0" font-size="8.6" text-anchor="middle" textLength="43.00" lengthAdjust="spacingAndGlyphs" style="stroke-width:0.3px">HLA-DR MFI</text>
<text x="453.00" y="434.85" font-size="8.4" text-anchor="middle" textLength="38.40" lengthAdjust="spacingAndGlyphs" style="stroke-width:0.3px">CD49d MFI</text>
<text x="473.80" y="335.42" font-size="6.4">r = 0.5212</text>
<text x="473.80" y="343.92" font-size="6.4">r<tspan font-size="3.97" dy="-3.6">2</tspan><tspan dy="3.6"> = 0.2716</tspan></text>
<text x="473.80" y="350.72" font-size="6.4"><tspan font-style="italic">P</tspan> = .0129</text>
<circle cx="397.40" cy="387.10" r="1.5" stroke="none"/>
<circle cx="400.00" cy="381.10" r="1.5" stroke="none"/>
<circle cx="402.10" cy="367.90" r="1.5" stroke="none"/>
<circle cx="404.20" cy="384.40" r="1.5" stroke="none"/>
<circle cx="403.00" cy="396.70" r="1.5" stroke="none"/>
<circle cx="404.70" cy="396.70" r="1.5" stroke="none"/>
<circle cx="405.60" cy="403.10" r="1.5" stroke="none"/>
<circle cx="410.40" cy="384.70" r="1.5" stroke="none"/>
<circle cx="413.40" cy="393.30" r="1.5" stroke="none"/>
<circle cx="414.30" cy="373.10" r="1.5" stroke="none"/>
<circle cx="419.00" cy="395.20" r="1.5" stroke="none"/>
<circle cx="422.90" cy="386.60" r="1.5" stroke="none"/>
<circle cx="427.30" cy="385.60" r="1.5" stroke="none"/>
<circle cx="432.30" cy="362.30" r="1.5" stroke="none"/>
<circle cx="437.70" cy="390.80" r="1.5" stroke="none"/>
<circle cx="437.70" cy="395.20" r="1.5" stroke="none"/>
<circle cx="442.20" cy="353.50" r="1.5" stroke="none"/>
<circle cx="454.60" cy="375.50" r="1.5" stroke="none"/>
<circle cx="460.30" cy="351.20" r="1.5" stroke="none"/>
<circle cx="473.40" cy="378.00" r="1.5" stroke="none"/>
<circle cx="476.90" cy="369.20" r="1.5" stroke="none"/>
<line x1="44.40" y1="457.40" x2="44.40" y2="535.80" stroke-width="1.25"/>
<line x1="43.90" y1="535.30" x2="158.80" y2="535.30" stroke-width="1.25"/>
<line x1="41.40" y1="535.30" x2="44.40" y2="535.30" stroke-width="1.1"/>
<text x="38.20" y="538.06" font-size="6.3" text-anchor="end" textLength="3.50" lengthAdjust="spacingAndGlyphs">0</text>
<line x1="41.40" y1="520.30" x2="44.40" y2="520.30" stroke-width="1.1"/>
<text x="38.20" y="523.06" font-size="6.3" text-anchor="end" textLength="14.01" lengthAdjust="spacingAndGlyphs">5000</text>
<line x1="41.40" y1="505.30" x2="44.40" y2="505.30" stroke-width="1.1"/>
<text x="38.20" y="508.06" font-size="6.3" text-anchor="end" textLength="18.21" lengthAdjust="spacingAndGlyphs">10000</text>
<line x1="41.40" y1="490.20" x2="44.40" y2="490.20" stroke-width="1.1"/>
<text x="38.20" y="492.96" font-size="6.3" text-anchor="end" textLength="18.21" lengthAdjust="spacingAndGlyphs">15000</text>
<line x1="41.40" y1="475.10" x2="44.40" y2="475.10" stroke-width="1.1"/>
<text x="38.20" y="477.86" font-size="6.3" text-anchor="end" textLength="18.21" lengthAdjust="spacingAndGlyphs">20000</text>
<line x1="41.40" y1="460.00" x2="44.40" y2="460.00" stroke-width="1.1"/>
<text x="38.20" y="462.76" font-size="6.3" text-anchor="end" textLength="18.21" lengthAdjust="spacingAndGlyphs">25000</text>
<line x1="44.40" y1="535.30" x2="44.40" y2="538.30" stroke-width="1.1"/>
<text x="44.40" y="546.86" font-size="6.3" text-anchor="middle" textLength="3.50" lengthAdjust="spacingAndGlyphs">0</text>
<line x1="72.30" y1="535.30" x2="72.30" y2="538.30" stroke-width="1.1"/>
<text x="72.30" y="546.86" font-size="6.3" text-anchor="middle" textLength="10.51" lengthAdjust="spacingAndGlyphs">500</text>
<line x1="100.40" y1="535.30" x2="100.40" y2="538.30" stroke-width="1.1"/>
<text x="100.40" y="546.86" font-size="6.3" text-anchor="middle" textLength="14.01" lengthAdjust="spacingAndGlyphs">1000</text>
<line x1="128.60" y1="535.30" x2="128.60" y2="538.30" stroke-width="1.1"/>
<text x="128.60" y="546.86" font-size="6.3" text-anchor="middle" textLength="14.01" lengthAdjust="spacingAndGlyphs">1500</text>
<line x1="156.80" y1="535.30" x2="156.80" y2="538.30" stroke-width="1.1"/>
<text x="156.80" y="546.86" font-size="6.3" text-anchor="middle" textLength="14.01" lengthAdjust="spacingAndGlyphs">2000</text>
<text x="8.90" y="454.20" font-size="9.0" textLength="6.60" lengthAdjust="spacingAndGlyphs">iv</text>
<text transform="translate(14.50,496.20) rotate(-90)" x="0" y="0" font-size="8.6" text-anchor="middle" textLength="34.00" lengthAdjust="spacingAndGlyphs" style="stroke-width:0.3px">CD69 MFI</text>
<text x="102.00" y="559.20" font-size="8.4" text-anchor="middle" textLength="38.40" lengthAdjust="spacingAndGlyphs" style="stroke-width:0.3px">CD49d MFI</text>
<text x="136.90" y="459.02" font-size="6.4">r = 0.668</text>
<text x="136.90" y="467.02" font-size="6.4">r<tspan font-size="3.97" dy="-3.6">2</tspan><tspan dy="3.6"> = 0.4462</tspan></text>
<text x="136.90" y="474.52" font-size="6.4"><tspan font-style="italic">P</tspan> = .0007</text>
<circle cx="58.30" cy="504.20" r="1.5" stroke="none"/>
<circle cx="46.10" cy="525.40" r="1.5" stroke="none"/>
<circle cx="47.70" cy="531.60" r="1.5" stroke="none"/>
<circle cx="50.10" cy="523.10" r="1.5" stroke="none"/>
<circle cx="52.30" cy="518.40" r="1.5" stroke="none"/>
<circle cx="50.80" cy="528.10" r="1.5" stroke="none"/>
<circle cx="52.70" cy="531.60" r="1.5" stroke="none"/>
<circle cx="53.40" cy="532.80" r="1.5" stroke="none"/>
<circle cx="62.10" cy="522.50" r="1.5" stroke="none"/>
<circle cx="61.70" cy="528.70" r="1.5" stroke="none"/>
<circle cx="67.30" cy="530.60" r="1.5" stroke="none"/>
<circle cx="71.00" cy="524.40" r="1.5" stroke="none"/>
<circle cx="75.90" cy="531.10" r="1.5" stroke="none"/>
<circle cx="81.10" cy="516.90" r="1.5" stroke="none"/>
<circle cx="86.60" cy="517.80" r="1.5" stroke="none"/>
<circle cx="91.10" cy="527.40" r="1.5" stroke="none"/>
<circle cx="103.90" cy="494.90" r="1.5" stroke="none"/>
<circle cx="109.50" cy="494.90" r="1.5" stroke="none"/>
<circle cx="123.40" cy="474.90" r="1.5" stroke="none"/>
<circle cx="127.00" cy="520.00" r="1.5" stroke="none"/>
<line x1="233.60" y1="457.20" x2="233.60" y2="534.90" stroke-width="1.25"/>
<line x1="233.10" y1="534.40" x2="348.60" y2="534.40" stroke-width="1.25"/>
<line x1="230.60" y1="534.40" x2="233.60" y2="534.40" stroke-width="1.1"/>
<text x="228.10" y="537.16" font-size="6.3" text-anchor="end" textLength="3.50" lengthAdjust="spacingAndGlyphs">0</text>
<line x1="230.60" y1="519.50" x2="233.60" y2="519.50" stroke-width="1.1"/>
<text x="228.10" y="522.26" font-size="6.3" text-anchor="end" textLength="14.01" lengthAdjust="spacingAndGlyphs">2000</text>
<line x1="230.60" y1="504.60" x2="233.60" y2="504.60" stroke-width="1.1"/>
<text x="228.10" y="507.36" font-size="6.3" text-anchor="end" textLength="14.01" lengthAdjust="spacingAndGlyphs">4000</text>
<line x1="230.60" y1="489.60" x2="233.60" y2="489.60" stroke-width="1.1"/>
<text x="228.10" y="492.36" font-size="6.3" text-anchor="end" textLength="14.01" lengthAdjust="spacingAndGlyphs">6000</text>
<line x1="230.60" y1="474.70" x2="233.60" y2="474.70" stroke-width="1.1"/>
<text x="228.10" y="477.46" font-size="6.3" text-anchor="end" textLength="14.01" lengthAdjust="spacingAndGlyphs">8000</text>
<line x1="230.60" y1="459.80" x2="233.60" y2="459.80" stroke-width="1.1"/>
<text x="228.10" y="462.56" font-size="6.3" text-anchor="end" textLength="18.21" lengthAdjust="spacingAndGlyphs">10000</text>
<line x1="233.60" y1="534.40" x2="233.60" y2="537.40" stroke-width="1.1"/>
<text x="233.60" y="546.86" font-size="6.3" text-anchor="middle" textLength="3.50" lengthAdjust="spacingAndGlyphs">0</text>
<line x1="270.80" y1="534.40" x2="270.80" y2="537.40" stroke-width="1.1"/>
<text x="270.80" y="546.86" font-size="6.3" text-anchor="middle" textLength="10.51" lengthAdjust="spacingAndGlyphs">500</text>
<line x1="308.00" y1="534.40" x2="308.00" y2="537.40" stroke-width="1.1"/>
<text x="308.00" y="546.86" font-size="6.3" text-anchor="middle" textLength="14.01" lengthAdjust="spacingAndGlyphs">1000</text>
<line x1="345.30" y1="534.40" x2="345.30" y2="537.40" stroke-width="1.1"/>
<text x="345.30" y="546.86" font-size="6.3" text-anchor="middle" textLength="14.01" lengthAdjust="spacingAndGlyphs">1500</text>
<text x="199.40" y="453.80" font-size="9.0" textLength="4.10" lengthAdjust="spacingAndGlyphs">v</text>
<text transform="translate(204.40,495.60) rotate(-90)" x="0" y="0" font-size="8.6" text-anchor="middle" textLength="34.00" lengthAdjust="spacingAndGlyphs" style="stroke-width:0.3px">CD38 MFI</text>
<text x="291.50" y="558.40" font-size="8.4" text-anchor="middle" textLength="38.40" lengthAdjust="spacingAndGlyphs" style="stroke-width:0.3px">CD49d MFI</text>
<text x="348.90" y="459.02" font-size="6.4">r = 0.5311</text>
<text x="348.90" y="466.52" font-size="6.4">r<tspan font-size="3.97" dy="-3.6">2</tspan><tspan dy="3.6"> = 0.2821</tspan></text>
<text x="348.90" y="474.72" font-size="6.4"><tspan font-style="italic">P</tspan> = .011</text>
<circle cx="282.60" cy="470.30" r="1.5" stroke="none"/>
<circle cx="338.60" cy="468.00" r="1.5" stroke="none"/>
<circle cx="312.80" cy="484.00" r="1.5" stroke="none"/>
<circle cx="320.40" cy="491.40" r="1.5" stroke="none"/>
<circle cx="252.50" cy="498.90" r="1.5" stroke="none"/>
<circle cx="296.20" cy="498.60" r="1.5" stroke="none"/>
<circle cx="242.60" cy="511.70" r="1.5" stroke="none"/>
<circle cx="242.60" cy="514.80" r="1.5" stroke="none"/>
<circle cx="269.80" cy="513.50" r="1.5" stroke="none"/>
<circle cx="241.30" cy="520.40" r="1.5" stroke="none"/>
<circle cx="257.30" cy="516.60" r="1.5" stroke="none"/>
<circle cx="289.90" cy="516.90" r="1.5" stroke="none"/>
<circle cx="238.30" cy="526.30" r="1.5" stroke="none"/>
<circle cx="264.20" cy="527.40" r="1.5" stroke="none"/>
<circle cx="245.60" cy="530.10" r="1.5" stroke="none"/>
<circle cx="235.90" cy="534.30" r="1.5" stroke="none"/>
<circle cx="244.20" cy="534.30" r="1.5" stroke="none"/>
<circle cx="257.60" cy="534.10" r="1.5" stroke="none"/>
<circle cx="276.10" cy="533.70" r="1.5" stroke="none"/>
<circle cx="343.40" cy="533.50" r="1.5" stroke="none"/>
</g>
</svg>
</body></html>
